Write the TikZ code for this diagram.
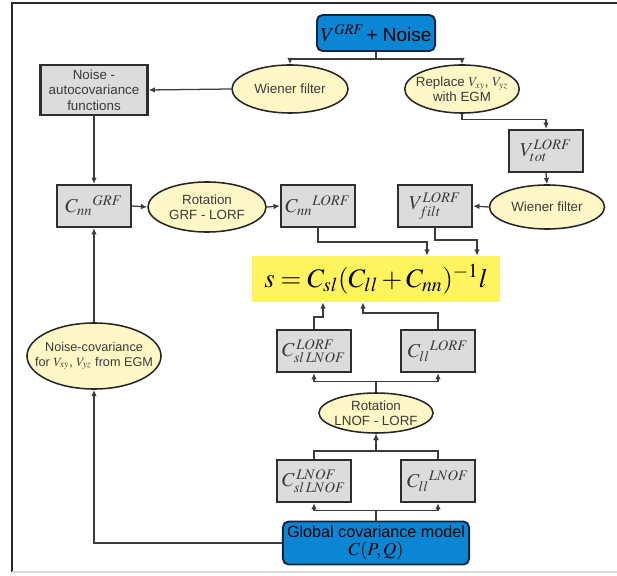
\documentclass[tikz,border=0pt]{standalone}
\usepackage{mathptmx}
\usepackage{fontspec}
\setmainfont{Liberation Sans}
\usepackage{tikz}
\usetikzlibrary{calc,arrows.meta,shapes.geometric}
\definecolor{blufill}{HTML}{0A86D4}
\definecolor{blubd}{HTML}{10263F}
\definecolor{gryfill}{HTML}{DCDCDC}
\definecolor{grybd}{HTML}{2E2E2E}
\definecolor{ellfill}{HTML}{FFF8C6}
\definecolor{ellbd}{HTML}{262626}
\definecolor{eqfill}{HTML}{FFF35E}
\definecolor{lncol}{HTML}{3C3C3C}
\definecolor{txt}{HTML}{3A3A3A}
\definecolor{framecol}{HTML}{2A2A2A}
\tikzset{
  blubox/.style={draw=blubd, line width=1.4pt, fill=blufill, rounded corners=4pt, inner sep=0pt, align=center},
  grybox/.style={draw=grybd, line width=1.6pt, fill=gryfill, minimum width=1.85cm, minimum height=1.05cm, inner sep=0pt, text=txt, align=center},
  yelell/.style={ellipse, draw=ellbd, line width=1.1pt, fill=ellfill, inner sep=-4pt, text=txt, align=center,
    font=\fontsize{9.5}{11}\selectfont},
  eqbox/.style={fill=eqfill, minimum width=6.2cm, minimum height=1.15cm, inner sep=0pt},
  ln/.style={draw=lncol, line width=0.9pt},
  arr/.style={ln, -{Latex[length=4.5pt,width=4pt]}},
  cfont/.style={font=\fontsize{14}{14}\selectfont}
}
\begin{document}
\begin{tikzpicture}[x=0.025cm, y=-0.025cm]
  \useasboundingbox (0,0) rectangle (617,576);
  % frame
  \draw[framecol, line width=1pt] (617,3) -- (12,3) -- (12,572);
  \draw[black!15, line width=1pt] (12,572) -- (617,572);

  % top row
  \node[blubox, minimum width=2.95cm, minimum height=0.9cm] (top) at (376,33)
    {{\fontsize{14}{14}\selectfont$V^{GRF}$}\,{\fontsize{13.5}{14}\selectfont + Noise}};
  \node[yelell, minimum width=2.9cm, minimum height=1.2cm] (wf1) at (290,89) {Wiener filter};
  \node[yelell, minimum width=2.85cm, minimum height=1.2cm] (repl) at (462,89)
    {Replace $V_{xy}$, $V_{yz}$\\with EGM};
  \node[grybox, minimum width=2.675cm, minimum height=1.25cm, font=\fontsize{9.5}{11}\selectfont] (noiseac) at (94,90)
    {Noise -\\autocovariance\\functions};
  \node[grybox, cfont] (vtot) at (546,151) {$V^{LORF}_{tot}$};

  % second row
  \node[grybox, cfont] (cnngrf) at (94,206) {$C_{nn}{}^{GRF}$};
  \node[yelell, minimum width=2.95cm, minimum height=1.25cm] (rotgrf) at (207,207) {Rotation\\GRF - LORF};
  \node[grybox, cfont] (cnnlorf) at (318,206) {$C_{nn}{}^{LORF}$};
  \node[grybox, cfont] (vfilt) at (435,206) {$V^{LORF}_{filt}$};
  \node[yelell, minimum width=2.875cm, minimum height=1.1cm] (wf2) at (547,207) {Wiener filter};

  % formula
  \node[eqbox, font=\fontsize{19}{19}\selectfont] (eq) at (376,279) {$s=C_{sl}(C_{ll}+C_{nn})^{-1}l$};

  % lower part
  \node[yelell, minimum width=3.35cm, minimum height=1.65cm, inner sep=-9pt, font=\fontsize{9}{10.5}\selectfont] (noisecov) at (94,356)
    {Noise-covariance\\for $V_{xy}$, $V_{yz}$ from EGM};
  \node[grybox, cfont] (csllorf) at (314,351) {$C^{\,LORF}_{sl\,LNOF}$};
  \node[grybox, cfont] (clllorf) at (438,351) {$C_{ll}{}^{LORF}$};
  \node[yelell, minimum width=2.85cm, minimum height=1.0cm] (rotln) at (376,413) {Rotation\\LNOF - LORF};
  \node[grybox, cfont] (csllnof) at (314,481) {$C^{\,LNOF}_{sl\,LNOF}$};
  \node[grybox, cfont] (clllnof) at (438,481) {$C_{ll}{}^{LNOF}$};
  \node[blubox, minimum width=4.65cm, minimum height=1.075cm] (global) at (376,543)
    {{\fontsize{11.5}{13}\selectfont Global covariance model}\\[1pt]{\fontsize{13}{13}\selectfont$C(P,Q)$}};

  % connectors
  \draw[arr] (top.south) -- ++(0,7) -| (wf1.north);
  \draw[arr] (top.south) -- ++(0,7) -| (repl.north);
  \draw[arr] (wf1.west) -- (noiseac.east);
  \draw[arr] (noiseac.south) -- (cnngrf.north);
  \draw[arr] (repl.south) -- ++(0,6) -| (vtot.north);
  \draw[arr] (vtot.south) -- (wf2.north);
  \draw[arr] (wf2.west) -- (vfilt.east);
  \draw[arr] (cnngrf.east) -- (rotgrf.west);
  \draw[arr] (rotgrf.east) -- (cnnlorf.west);
  \draw[arr] (cnnlorf.south) -- ++(0,14) -| ($(eq.north)+(51,0)$);
  \draw[arr] (vfilt.south) -- ++(0,12) -| ($(eq.north)+(101,0)$);
  \draw[arr] (csllorf.north) -- ++(0,-12) -| ($(eq.south)+(-53,0)$);
  \draw[arr] (clllorf.north) -- ++(0,-16) -| ($(eq.south)+(-13,0)$);
  \draw[arr] (rotln.north) -- ++(0,-11) -| (csllorf.south);
  \draw[arr] (rotln.north) -- ++(0,-11) -| (clllorf.south);
  \draw[arr] (csllnof.north) -- ++(0,-8) -| (rotln.south);
  \draw[arr] (clllnof.north) -- ++(0,-8) -| (rotln.south);
  \draw[arr] (global.north) -- ++(0,-10) -| (csllnof.south);
  \draw[arr] (global.north) -- ++(0,-10) -| (clllnof.south);
  \draw[arr] (global.west) -| (noisecov.south);
  \draw[arr] (noisecov.north) -- (cnngrf.south);
\end{tikzpicture}
\end{document}
